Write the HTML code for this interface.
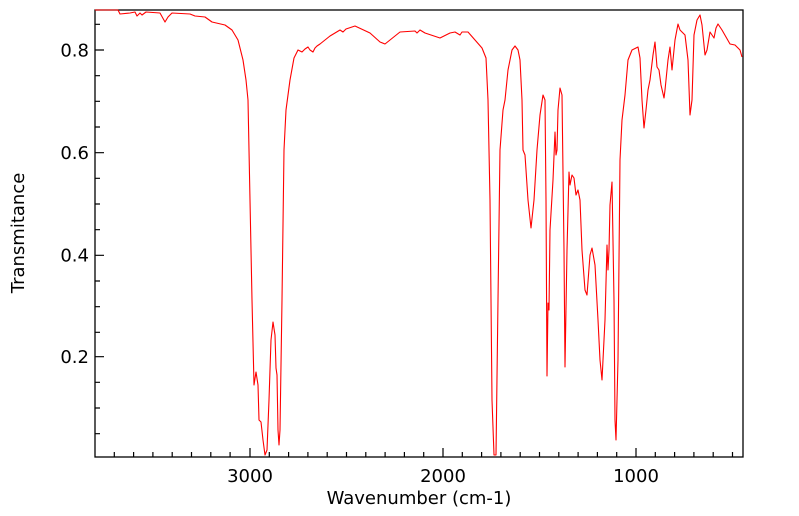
<!DOCTYPE html>
<html><head><style>body{margin:0;background:#fff}svg{display:block}text{font-family:"DejaVu Sans","Liberation Sans",sans-serif;font-size:18px;fill:#000}</style></head><body>
<svg width="799" height="516" viewBox="0 0 799 516">
<rect x="95" y="10" width="648" height="447" fill="none" stroke="#000" stroke-width="1.3"/>
<g stroke="#000" stroke-width="1.2">
<path d="M250 457v-9M443 457v-9M636 457v-9M95 50h9M95 152.7h9M95 255.3h9M95 356.7h9"/>
<path d="M114.3 457v-5M133.6 457v-5M152.9 457v-5M172.2 457v-5M191.5 457v-5M210.8 457v-5M230.1 457v-5M269.3 457v-5M288.6 457v-5M307.9 457v-5M327.2 457v-5M346.5 457v-5M365.8 457v-5M385.1 457v-5M404.4 457v-5M423.7 457v-5M462.3 457v-5M481.6 457v-5M500.9 457v-5M520.2 457v-5M539.5 457v-5M558.8 457v-5M578.1 457v-5M597.4 457v-5M616.7 457v-5M655.3 457v-5M674.6 457v-5M693.9 457v-5M713.2 457v-5M732.5 457v-5"/>
<path d="M95 24.3h5M95 75.7h5M95 101.3h5M95 127h5M95 178.3h5M95 204h5M95 229.7h5M95 281h5M95 306.7h5M95 332.3h5M95 382.3h5M95 408h5M95 433.7h5"/>
</g>
<text x="89" y="56.5" text-anchor="end">0.8</text>
<text x="89" y="159" text-anchor="end">0.6</text>
<text x="89" y="261.5" text-anchor="end">0.4</text>
<text x="89" y="363" text-anchor="end">0.2</text>
<text x="250" y="482" text-anchor="middle">3000</text>
<text x="443" y="482" text-anchor="middle">2000</text>
<text x="636" y="482" text-anchor="middle">1000</text>
<text x="419" y="504" text-anchor="middle">Wavenumber (cm-1)</text>
<text transform="translate(24,233) rotate(-90)" text-anchor="middle">Transmitance</text>
<polyline fill="none" stroke="#f00" stroke-width="1.1" stroke-linejoin="round" points="95,10 118,10 120,14 130,13 135,12 137,16 140,13 142,15 146,12 160,13 165,22 168,17 172,13 190,14 195,16 205,17 212,22 225,25 232,30 238,40 243,60 246,80 248,100 250,200 252,300 254,385 256,372 258,385 259,420 261,422 263,440 265,455 267,450 269,400 271,340 273,322 275,335 276,368 277,375 278,430 279,445 280,430 282,300 284,150 286,110 290,80 294,58 298,50 302,52 305,49 308,47 310,50 313,52 315,48 317,46 320,44 330,36 340,30 343,32 346,29 355,26 370,33 380,42 385,44 390,40 400,32 415,31 417,33 420,30 425,33 440,38 450,33 455,32 460,35 462,32 468,32 475,40 482,48 486,58 488,100 490,200 492,400 494,455 496,455 498,300 500,150 503,110 505,100 508,70 512,50 515,46 518,50 520,60 522,100 523,150 525,155 528,200 531,228 534,200 537,150 540,115 543,95 545,100 546,200 547,376 548,303 549,310 550,230 553,180 555,132 556,155 557,150 558,110 560,88 562,95 564,250 565,367 567,250 569,172 570,185 572,175 574,178 576,195 578,190 580,200 582,250 585,290 587,295 590,255 592,248 595,265 598,320 600,360 602,380 605,320 607,245 608,270 609,250 610,205 612,182 614,300 615,420 616,440 618,360 620,160 622,120 625,95 628,60 632,50 638,47 640,58 642,100 644,128 646,110 648,90 650,80 653,55 655,42 657,67 659,70 661,85 664,98 665,90 668,60 670,47 672,70 675,40 678,24 680,30 685,35 688,60 690,115 692,100 694,35 697,20 700,15 702,25 705,55 707,50 710,32 712,35 714,38 716,28 718,24 722,30 726,37 730,44 735,45 740,50 742,57"/>
</svg>
</body></html>
